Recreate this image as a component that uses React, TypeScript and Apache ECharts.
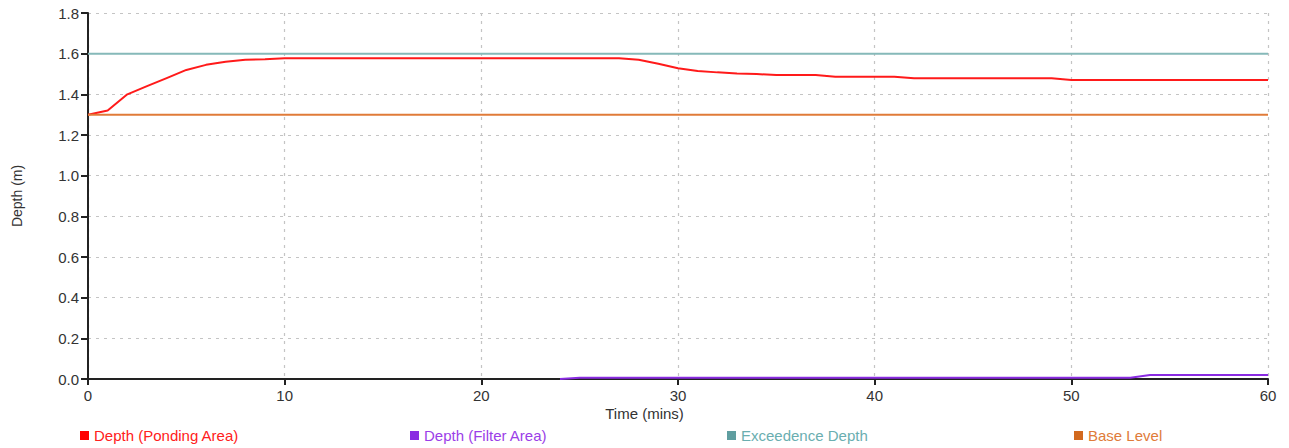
import React, { useEffect, useRef } from "react";
import * as echarts from "echarts";

const times = [
  0, 1, 2, 3, 4, 5, 6, 7, 8, 9, 10, 11, 12, 13, 14, 15, 16, 17, 18, 19, 20,
  21, 22, 23, 24, 25, 26, 27, 28, 29, 30, 31, 32, 33, 34, 35, 36, 37, 38, 39, 40,
  41, 42, 43, 44, 45, 46, 47, 48, 49, 50, 51, 52, 53, 54, 55, 56, 57, 58, 59, 60,
];

const pondingDepth = [
  1.3, 1.32, 1.4, 1.44, 1.48, 1.52, 1.545, 1.56, 1.57, 1.573, 1.577,
  1.577, 1.577, 1.577, 1.577, 1.577, 1.577, 1.577, 1.577, 1.577, 1.577,
  1.577, 1.577, 1.577, 1.577, 1.577, 1.577, 1.577, 1.57, 1.55, 1.528,
  1.515, 1.508, 1.503, 1.5, 1.495, 1.495, 1.495, 1.487, 1.487, 1.487,
  1.487, 1.479, 1.479, 1.479, 1.479, 1.479, 1.479, 1.479, 1.479, 1.471,
  1.471, 1.471, 1.471, 1.471, 1.471, 1.471, 1.471, 1.471, 1.471, 1.471,
];

const filterDepth: (number | null)[] = [
  null, null, null, null, null, null, null, null, null, null, null,
  null, null, null, null, null, null, null, null, null, null,
  null, null, null, 0, 0.006, 0.006, 0.006, 0.006, 0.006, 0.006,
  0.006, 0.006, 0.006, 0.006, 0.006, 0.006, 0.006, 0.006, 0.006, 0.006,
  0.006, 0.006, 0.006, 0.006, 0.006, 0.006, 0.006, 0.006, 0.006, 0.006,
  0.006, 0.006, 0.006, 0.02, 0.02, 0.02, 0.02, 0.02, 0.02, 0.02,
];

const exceedenceTimes = [0, 60];
const exceedenceDepth = [1.6, 1.6];
const baseTimes = [0, 60];
const baseLevel = [1.3, 1.3];

const seriesNames = [
  "Depth (Ponding Area)",
  "Depth (Filter Area)",
  "Exceedence Depth",
  "Base Level",
];
const lineColors = ["#ff1a1a", "#8a2be2", "#86b9b9", "#e07b39"];
const legendIconColors = ["#ff0000", "#8a2be2", "#5f9ea0", "#d2691e"];
const legendTextColors = ["#ff2020", "#9b3ee8", "#6aaeb0", "#e07b39"];
const legendLefts = [80, 410, 727, 1074];

const FONT = "'Liberation Sans', Arial, sans-serif";

export default function App() {
  const ref = useRef<HTMLDivElement>(null);

  useEffect(() => {
    document.body.style.margin = "0";
    if (!ref.current) return;
    const chart = echarts.init(ref.current, null, { renderer: "svg" });

    const pairs = (xs: number[], ys: (number | null)[]) =>
      xs.map((x, i) => [x, ys[i]]);

    const dataSets = [
      pairs(times, pondingDepth),
      pairs(times, filterDepth),
      pairs(exceedenceTimes, exceedenceDepth),
      pairs(baseTimes, baseLevel),
    ];

    chart.setOption({
      animation: false,
      textStyle: { fontFamily: FONT },
      title: {
        text: "Time (mins)",
        left: "center",
        top: 406,
        padding: 0,
        textStyle: {
          fontSize: 15,
          fontWeight: "normal",
          color: "#333",
          fontFamily: FONT,
        },
      },
      legend: seriesNames.map((name, i) => ({
        data: [name],
        left: legendLefts[i],
        top: 428,
        padding: 0,
        itemWidth: 9,
        itemHeight: 9,
        icon: "rect",
        selectedMode: false,
        itemStyle: { color: legendIconColors[i] },
        textStyle: {
          color: legendTextColors[i],
          fontSize: 15,
          fontFamily: FONT,
        },
      })),
      grid: { left: 88, right: 21, top: 13, bottom: 69, containLabel: false },
      xAxis: {
        type: "value",
        min: 0,
        max: 60,
        interval: 10,
        axisLine: { show: true, lineStyle: { color: "#222", width: 2 } },
        axisTick: { show: true, length: 6, lineStyle: { color: "#222", width: 2 } },
        axisLabel: { color: "#333", fontSize: 15, margin: 9, fontFamily: FONT },
        splitLine: {
          show: true,
          lineStyle: { color: "#c4c4c4", type: [3, 5], width: 1.2 },
        },
      },
      yAxis: {
        type: "value",
        min: 0,
        max: 1.8,
        interval: 0.2,
        name: "Depth (m)",
        nameLocation: "middle",
        nameGap: 64,
        nameTextStyle: { color: "#333", fontSize: 14, fontFamily: FONT },
        axisLine: { show: true, lineStyle: { color: "#222", width: 2 } },
        axisTick: { show: true, length: 7, lineStyle: { color: "#222", width: 2 } },
        axisLabel: {
          color: "#333",
          fontSize: 15,
          margin: 9,
          fontFamily: FONT,
          formatter: (v: number) => v.toFixed(1),
        },
        splitLine: {
          show: true,
          lineStyle: { color: "#c4c4c4", type: [3, 5], width: 1.2 },
        },
      },
      series: seriesNames.map((name, i) => ({
        name,
        type: "line",
        data: dataSets[i],
        showSymbol: false,
        symbol: "none",
        connectNulls: false,
        lineStyle: { color: lineColors[i], width: 2 },
        itemStyle: { color: legendIconColors[i] },
        emphasis: { disabled: true },
      })),
    });

    return () => chart.dispose();
  }, []);

  return <div ref={ref} style={{ width: 1289, height: 448 }} />;
}
